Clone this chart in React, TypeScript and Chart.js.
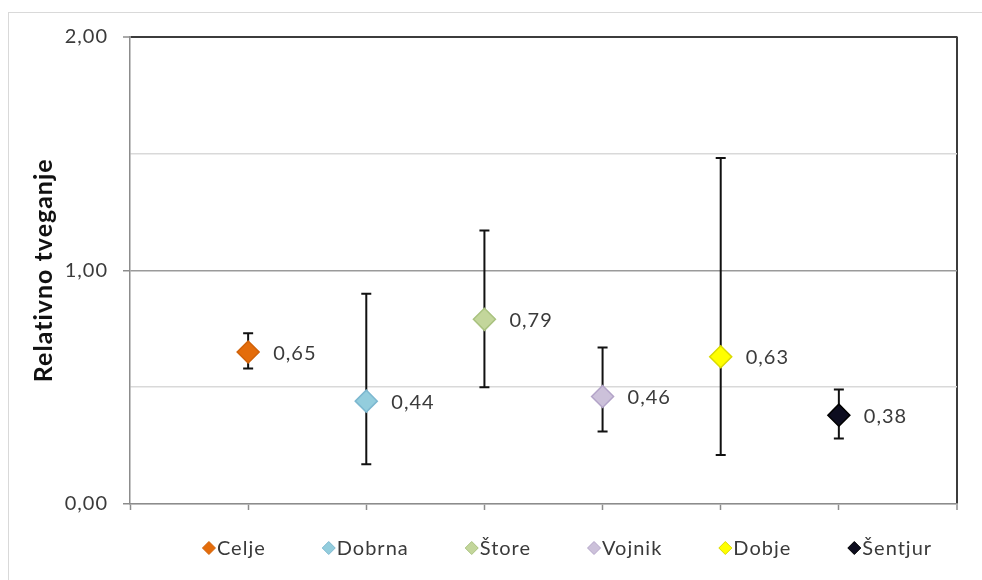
import React, { useEffect, useRef } from "react";
import { Chart, registerables } from "chart.js";

Chart.register(...registerables);

// Relative risk by municipality with 95% confidence intervals
const municipalities = ["Celje", "Dobrna", "Štore", "Vojnik", "Dobje", "Šentjur"];
const relativeRisk = [0.65, 0.44, 0.79, 0.46, 0.63, 0.38];
const ciLower = [0.58, 0.17, 0.5, 0.31, 0.21, 0.28];
const ciUpper = [0.73, 0.9, 1.17, 0.67, 1.48, 0.49];
const fillColors = ["#e46c0a", "#93cddd", "#c3d69b", "#ccc1da", "#ffff00", "#0d0d1f"];
const borderColors = ["#d0620a", "#7db8d0", "#a9c27f", "#b3a4c8", "#d9d900", "#000000"];
const yLabelledTicks = [0, 1, 2];

const FONT = "Lato, 'Open Sans', sans-serif";
const TEXT = "#3a3a3a";

const fmt = (v: number) => v.toFixed(2).replace(".", ",");

// slightly open tracking for all chart text
const textTracking = {
  id: "textTracking",
  beforeDraw(chart: any) {
    chart.ctx.letterSpacing = "1px";
  },
};

const errorBars = {
  id: "errorBars",
  beforeDatasetsDraw(chart: any) {
    const { ctx, scales } = chart;
    ctx.save();
    ctx.strokeStyle = "#111111";
    ctx.lineWidth = 2;
    chart.data.datasets.forEach((ds: any, i: number) => {
      const px = scales.x.getPixelForValue(ds.data[0].x);
      const yLo = scales.y.getPixelForValue(ciLower[i]);
      const yHi = scales.y.getPixelForValue(ciUpper[i]);
      const cap = 5;
      ctx.beginPath();
      ctx.moveTo(px, yLo);
      ctx.lineTo(px, yHi);
      ctx.moveTo(px - cap, yLo);
      ctx.lineTo(px + cap, yLo);
      ctx.moveTo(px - cap, yHi);
      ctx.lineTo(px + cap, yHi);
      ctx.stroke();
    });
    ctx.restore();
  },
};

const valueLabels = {
  id: "valueLabels",
  afterDatasetsDraw(chart: any) {
    const { ctx, scales } = chart;
    ctx.save();
    ctx.font = `20px ${FONT}`;
    ctx.fillStyle = TEXT;
    ctx.textAlign = "left";
    ctx.textBaseline = "middle";
    chart.data.datasets.forEach((ds: any) => {
      const p = ds.data[0];
      const px = scales.x.getPixelForValue(p.x);
      const py = scales.y.getPixelForValue(p.y);
      ctx.fillText(fmt(p.y), px + 25, py + 1);
    });
    ctx.restore();
  },
};

const legendRow = {
  id: "legendRow",
  afterDraw(chart: any) {
    const { ctx, chartArea } = chart;
    const items = chart.data.datasets;
    const half = 6.5;
    const textGap = 8;
    const itemGap = 50;
    ctx.save();
    ctx.font = `20px ${FONT}`;
    const widths = items.map((ds: any) => ctx.measureText(ds.label).width);
    const total =
      widths.reduce((s: number, w: number) => s + half * 2 + textGap + w, 0) +
      itemGap * (items.length - 1);
    let x = (chartArea.left + chartArea.right) / 2 + 27 - total / 2;
    const y = chartArea.bottom + 44;
    items.forEach((ds: any, i: number) => {
      const cx = x + half;
      ctx.beginPath();
      ctx.moveTo(cx - half, y);
      ctx.lineTo(cx, y - half);
      ctx.lineTo(cx + half, y);
      ctx.lineTo(cx, y + half);
      ctx.closePath();
      ctx.fillStyle = ds.pointBackgroundColor;
      ctx.fill();
      ctx.strokeStyle = ds.pointBorderColor;
      ctx.lineWidth = 1;
      ctx.stroke();
      ctx.fillStyle = TEXT;
      ctx.textAlign = "left";
      ctx.textBaseline = "middle";
      ctx.fillText(ds.label, cx + textGap, y + 1);
      x += half * 2 + textGap + widths[i] + itemGap;
    });
    ctx.restore();
  },
};

export default function App() {
  const ref = useRef<HTMLCanvasElement>(null);

  useEffect(() => {
    const canvas = ref.current;
    if (!canvas) return;
    const chart = new Chart(canvas, {
      type: "scatter",
      data: {
        datasets: municipalities.map((name, i) => ({
          label: name,
          data: [{ x: i + 1, y: relativeRisk[i] }],
          pointStyle: "rectRot",
          pointRadius: 11,
          pointHoverRadius: 11,
          pointBackgroundColor: fillColors[i],
          pointBorderColor: borderColors[i],
          pointBorderWidth: 1.5,
        })),
      },
      options: {
        responsive: false,
        animation: false,
        events: [],
        layout: { padding: { top: 23.5, right: 33, left: 0, bottom: 0 } },
        plugins: { legend: { display: false }, tooltip: { enabled: false } },
        scales: {
          x: {
            type: "linear",
            min: 0,
            max: municipalities.length + 1,
            ticks: { stepSize: 1, display: false },
            grid: {
              color: (c: any) =>
                c.tick && c.tick.value === municipalities.length + 1 ? "#3c3c3c" : "rgba(0,0,0,0)",
              lineWidth: (c: any) => (c.tick && c.tick.value === municipalities.length + 1 ? 2 : 1),
              tickColor: "#8c8c8c",
              tickWidth: 1.5,
              tickLength: 6,
            },
            border: { color: "#8c8c8c", width: 1.5 },
            afterFit: (s: any) => {
              s.height = 76;
            },
          },
          y: {
            min: 0,
            max: 2,
            ticks: {
              stepSize: 0.5,
              padding: 15,
              color: TEXT,
              font: { family: FONT, size: 20 },
              callback: (v: any) => (yLabelledTicks.includes(v) ? fmt(v) : ""),
            },
            grid: {
              color: (c: any) => {
                const v = c.tick ? c.tick.value : 0;
                if (v === 2) return "#3c3c3c";
                if (v === 1) return "#9a9a9a";
                return "#d9d9d9";
              },
              lineWidth: (c: any) => {
                const v = c.tick ? c.tick.value : 0;
                if (v === 2) return 2;
                return 1.5;
              },
              tickColor: (c: any) =>
                c.tick && yLabelledTicks.includes(c.tick.value) ? "#8c8c8c" : "rgba(0,0,0,0)",
              tickWidth: 1.5,
              tickLength: 7,
            },
            border: { color: "#8c8c8c", width: 1.5 },
            title: {
              display: true,
              text: "Relativno tveganje",
              color: "#111111",
              font: { family: FONT, size: 25, weight: "bold" },
              padding: { top: 20, bottom: 0 },
            },
            afterFit: (s: any) => {
              s.width = 121;
              s.paddingTop = 0;
              s.paddingBottom = 0;
            },
          },
        },
      },
      plugins: [textTracking, errorBars, valueLabels, legendRow],
    } as any);
    return () => chart.destroy();
  }, []);

  return (
    <div
      style={{
        position: "fixed",
        left: 8,
        top: 12,
        width: 990,
        height: 580,
        borderTop: "1px solid #d9d9d9",
        borderLeft: "1px solid #d9d9d9",
        background: "#ffffff",
      }}
    >
      <canvas ref={ref} width={981} height={567} style={{ display: "block" }} />
    </div>
  );
}
